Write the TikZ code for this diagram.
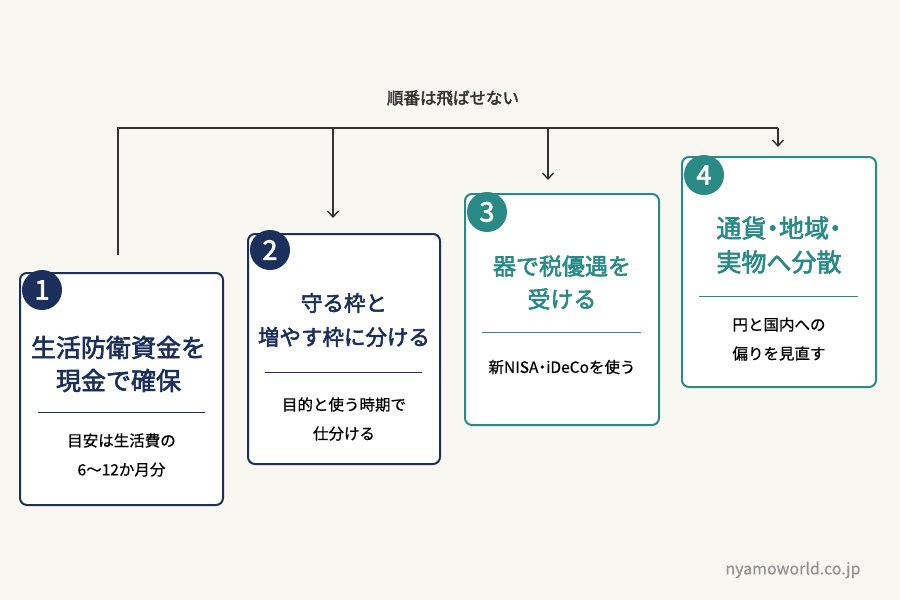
\documentclass[tikz,border=0pt]{standalone}
\usepackage{fontspec}
\setmainfont{Noto Sans CJK JP}
\newfontfamily\jpb{Noto Sans CJK JP}[FakeBold=2.5]
\newfontfamily\jpm{Noto Sans CJK JP}[FakeBold=0.6]
\usetikzlibrary{arrows.meta}
\definecolor{bg}{HTML}{F8F7F2}
\definecolor{navy}{HTML}{1B2F5C}
\definecolor{teal}{HTML}{2A8A86}
\definecolor{ink}{HTML}{333333}
\newcommand{\nd}{\kern-0.25em・\kern-0.25em}
\begin{document}
\begin{tikzpicture}[x=1pt,y=-1pt,
 box/.style={draw=#1,line width=2pt,rounded corners=7pt,fill=white},
 badge/.style={circle,fill=#1,minimum size=40pt,inner sep=0pt,text=white,font=\fontsize{27}{27}\jpb},
 ttl/.style={text=#1,align=center},
 bod/.style={text=black,font=\fontsize{15.5}{29}\jpm,align=center},
 conn/.style={draw=ink,line width=1.4pt},
 arr/.style={conn,-{Straight Barb[length=6pt,width=11pt]}}]
\fill[bg] (0,0) rectangle (900,600);
\useasboundingbox (0,0) rectangle (900,600);
% boxes
\draw[box=navy] (20,273) rectangle (223,505);
\node[badge=navy] (b1) at (42,290) {1};
\node[ttl=navy,font=\fontsize{25}{33}\jpb] (t1) at (118.5,364) {生活防衛資金を\\現金で確保};
\draw[navy,line width=1pt] (38,412) -- (205,412);
\node[bod] (d1) at (121.5,455) {目安は生活費の\\6〜12か月分};

\draw[box=navy] (248,234) rectangle (440,464);
\node[badge=navy] (b2) at (270,250) {2};
\node[ttl=navy,font=\fontsize{21.5}{34}\jpb] (t2) at (344,320) {守る枠と\\増やす枠に分ける};
\draw[navy,line width=1pt] (265,372) -- (422,372);
\node[bod] (d2) at (344,419) {目的と使う時期で\\仕分ける};

\draw[box=teal] (465,194) rectangle (659,425);
\node[badge=teal] (b3) at (487,212) {3};
\node[ttl=teal,font=\fontsize{23}{33}\jpb] (t3) at (562,282.5) {器で税優遇を\\受ける};
\draw[teal,line width=1pt] (482,332) -- (641,332);
\node[bod] (d3) at (562,367) {新NISA\nd iDeCoを使う};

\draw[box=teal] (682,157) rectangle (876,387);
\node[badge=teal] (b4) at (704,175) {4};
\node[ttl=teal,font=\fontsize{25}{34}\jpb] (t4) at (779,245) {通貨\nd 地域\nd\\実物へ分散};
\draw[teal,line width=1pt] (699,296) -- (858,296);
\node[bod] (d4) at (779,339) {円と国内への\\偏りを見直す};

% connectors
\coordinate (s) at (118,255);
\coordinate (c1) at (118,128);
\coordinate (c2) at (333,128);
\coordinate (c3) at (548,128);
\coordinate (c4) at (778,128);
\coordinate (e2) at (333,218);
\coordinate (e3) at (548,180);
\coordinate (e4) at (778,147);
\draw[conn] (s) -- (c1) -- (c4);
\draw[arr] (c2) -- (e2);
\draw[arr] (c3) -- (e3);
\draw[arr] (c4) -- (e4);
\node[text=ink,font=\fontsize{16.5}{16.5}\jpb] (lab) at (453,98) {順番は飛ばせない};
\node[text=gray!85,font=\fontsize{16}{16}\jpm] (wm) at (793,570) {nyamoworld.co.jp};
\end{tikzpicture}
\end{document}
